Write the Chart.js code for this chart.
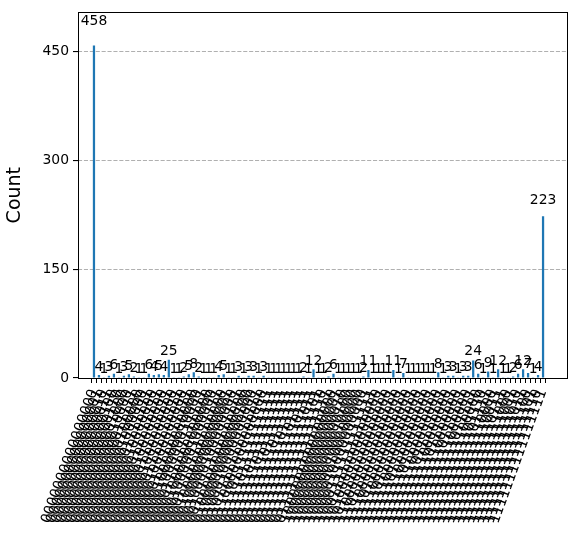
<!DOCTYPE html>
<html>
<head>
<meta charset="utf-8">
<script src="https://cdn.jsdelivr.net/npm/chart.js@4"></script>
<style>
  body { margin: 0; background: #fff; }
</style>
</head>
<body>
<canvas id="histChart" width="576" height="537"></canvas>
<script>
const bitstrings = [
    '0000000000000000', '0000000000000001', '0000000000000010', '0000000000000011',
    '0000000000000100', '0000000000000110', '0000000000001000', '0000000000010000',
    '0000000000011111', '0000000000100000', '0000000001000000', '0000000001111111',
    '0000000010000000', '0000000011111111', '0000000100000000', '0000000111111111',
    '0000001000000000', '0000001111111111', '0000010000000000', '0000011111111111',
    '0000100000000000', '0000100000010000', '0000111111111111', '0001000000000000',
    '0001000001000000', '0001111111111111', '0010000000000000', '0010000000000001',
    '0010000100000000', '0011111111111111', '0100000000000000', '0100000000000100',
    '0100010000000000', '0101111111111111', '0110000000000000', '0111011111111111',
    '0111101111111111', '0111110111111111', '0111111011111111', '0111111101111111',
    '0111111110111111', '0111111111011111', '0111111111101111', '0111111111110111',
    '0111111111111011', '0111111111111101', '0111111111111110', '0111111111111111',
    '1000000000000000', '1000000000000001', '1000000000000010', '1000000000000100',
    '1000000000010000', '1000000100000000', '1000010000000000', '1000111111111111',
    '1001111111111111', '1010000000000000', '1011111111111111', '1100000000000000',
    '1101111111111111', '1110000000000000', '1110111111111111', '1111000000000000',
    '1111011111111111', '1111100000000000', '1111101111111111', '1111110000000000',
    '1111110111111111', '1111111000000000', '1111111011111111', '1111111100000000',
    '1111111101111111', '1111111110000000', '1111111110111111', '1111111111000000',
    '1111111111011111', '1111111111100000', '1111111111101110', '1111111111101111',
    '1111111111110000', '1111111111110011', '1111111111110111', '1111111111111000',
    '1111111111111001', '1111111111111010', '1111111111111011', '1111111111111100',
    '1111111111111101', '1111111111111110', '1111111111111111'
];

const counts = [
    458, 4, 1, 3, 6, 1, 3, 5, 2, 1,
    1, 6, 4, 5, 4, 25, 1, 1, 2, 5,
    8, 2, 1, 1, 1, 4, 5, 1, 1, 3,
    1, 3, 3, 1, 3, 1, 1, 1, 1, 1,
    1, 1, 2, 1, 12, 1, 1, 2, 6, 1,
    1, 1, 1, 1, 2, 11, 1, 1, 1, 1,
    11, 1, 7, 1, 1, 1, 1, 1, 1, 8,
    1, 3, 3, 1, 3, 3, 24, 6, 1, 9,
    1, 12, 1, 1, 2, 6, 12, 7, 1, 4,
    223
];

const yTicks = [0, 150, 300, 450];

const font = 'DejaVu Sans';

// value labels above bars, like the qiskit annotations (at 1.05 * height)
const barLabels = {
    id: 'barLabels',
    afterDatasetsDraw(chart) {
        const ctx = chart.ctx;
        const meta = chart.getDatasetMeta(0);
        ctx.save();
        ctx.font = '13.9px "' + font + '"';
        ctx.fillStyle = '#000';
        ctx.textAlign = 'center';
        ctx.textBaseline = 'bottom';
        meta.data.forEach((bar, i) => {
            const y = chart.scales.y.getPixelForValue(counts[i] * 1.05);
            ctx.fillText(String(counts[i]), bar.x, y - 1);
        });
        ctx.restore();
    }
};

// full box around the plot area
const frame = {
    id: 'frame',
    afterDraw(chart) {
        const a = chart.chartArea;
        const ctx = chart.ctx;
        ctx.save();
        ctx.strokeStyle = '#000';
        ctx.lineWidth = 1;
        ctx.strokeRect(Math.round(a.left) + 0.5, Math.round(a.top) + 0.5,
            Math.round(a.right - a.left) - 1, Math.round(a.bottom - a.top));
        ctx.restore();
    }
};

const data = {
    datasets: [{
        data: counts.map((c, i) => ({ x: i, y: c })),
        backgroundColor: '#1f77b4',
        barPercentage: 0.45,
        categoryPercentage: 1
    }]
};

const config = {
    type: 'bar',
    data: data,
    options: {
        responsive: false,
        animation: false,
        devicePixelRatio: 1,
        layout: { padding: { top: 8, right: 8, left: 0, bottom: 0 } },
        plugins: {
            legend: { display: false },
            tooltip: { enabled: false }
        },
        scales: {
            x: {
                type: 'linear',
                min: -3.2,
                max: 95,
                offset: false,
                afterBuildTicks(scale) {
                    scale.ticks = bitstrings.map((b, i) => ({ value: i }));
                },
                afterFit(scale) { scale.height = 159; },
                ticks: {
                    autoSkip: false,
                    minRotation: 70,
                    maxRotation: 70,
                    padding: 4,
                    color: '#000',
                    font: { family: font, size: 13.9 },
                    callback: (v) => bitstrings[v]
                },
                grid: {
                    drawOnChartArea: false,
                    tickLength: 5,
                    tickColor: '#000'
                },
                border: { display: false }
            },
            y: {
                min: 0,
                max: 503.8,
                afterBuildTicks(scale) {
                    scale.ticks = yTicks.map(v => ({ value: v }));
                },
                afterFit(scale) { scale.width = 78; },
                ticks: {
                    padding: 4,
                    color: '#000',
                    font: { family: font, size: 13.9 }
                },
                grid: {
                    color: (c) => c.tick && c.tick.value === 0 ? 'rgba(0,0,0,0)' : '#b0b0b0',
                    lineWidth: 1.1,
                    tickBorderDash: [],
                    tickColor: '#000',
                    tickLength: 5
                },
                border: { display: false, dash: [4.1, 1.8] },
                title: {
                    display: true,
                    text: 'Count',
                    color: '#000',
                    font: { family: font, size: 19 },
                    padding: { top: 4, bottom: 4 }
                }
            }
        }
    },
    plugins: [barLabels, frame]
};

const ctx = document.getElementById('histChart');
const histChart = new Chart(ctx, config);
</script>
</body>
</html>
